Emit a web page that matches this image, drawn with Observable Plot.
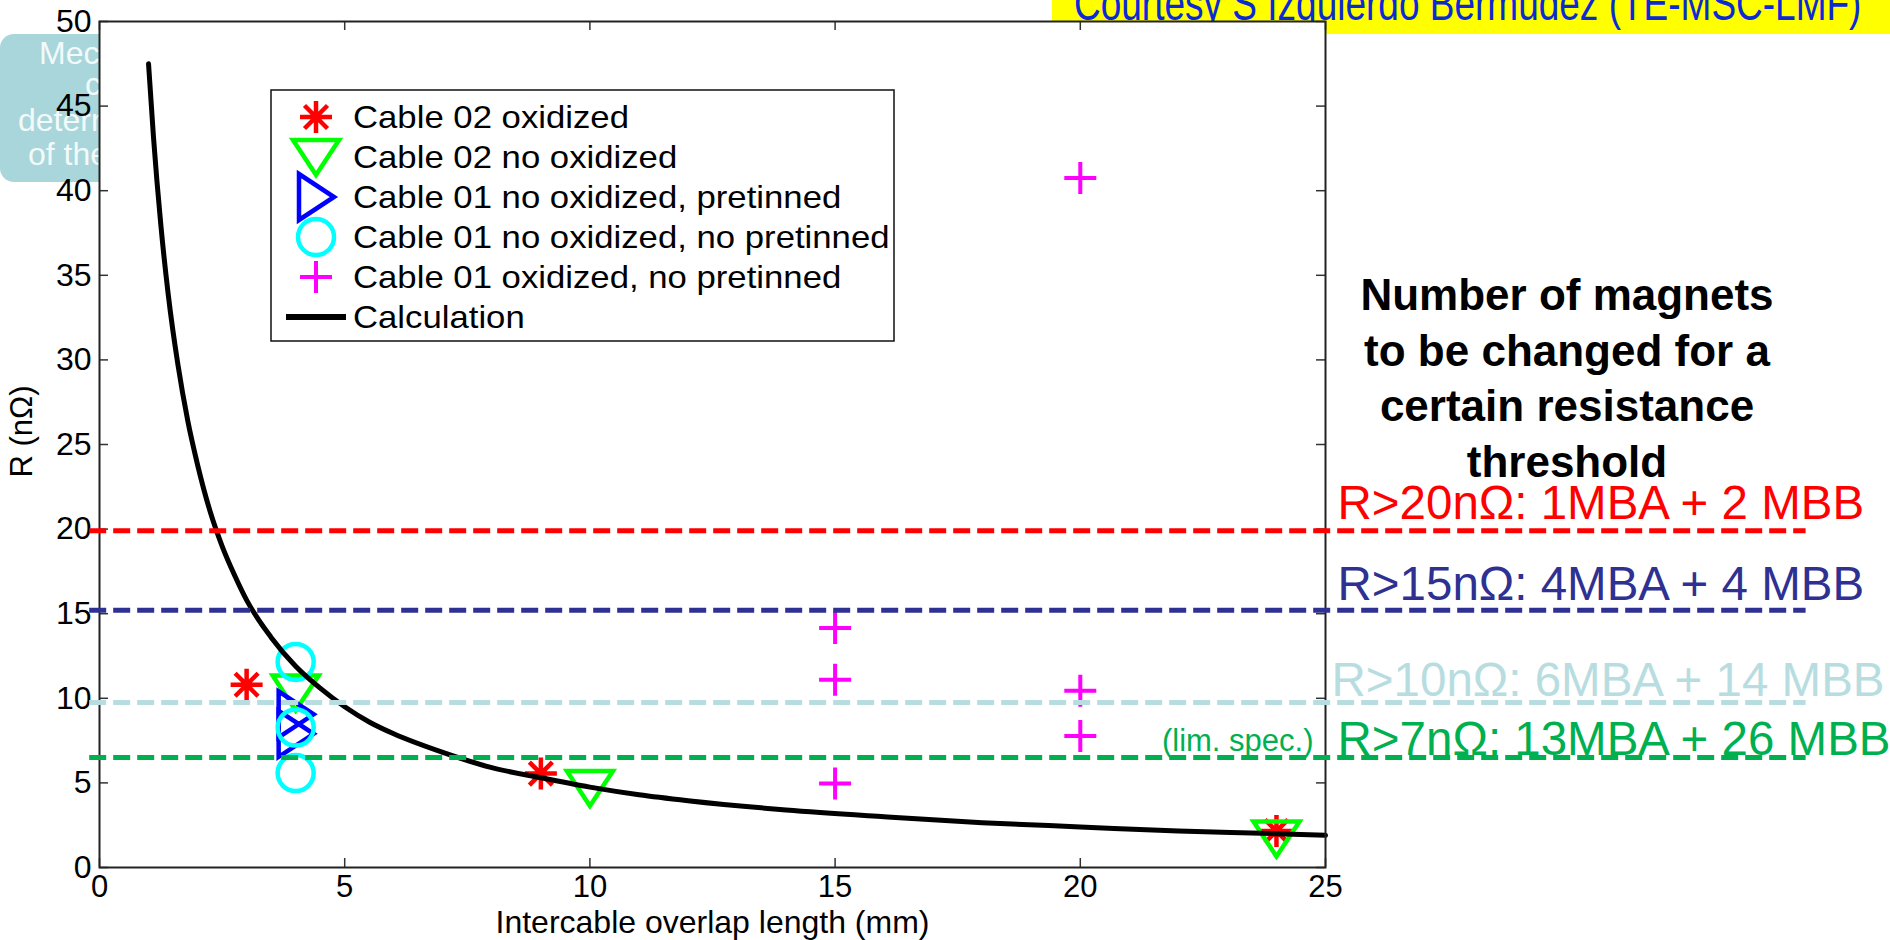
<!DOCTYPE html>
<html><head><meta charset="utf-8">
<script src="https://cdn.jsdelivr.net/npm/d3@7"></script>
<script src="https://cdn.jsdelivr.net/npm/@observablehq/plot@0.6"></script>
<style>
html,body{margin:0;padding:0;background:#fff;overflow:hidden;}
#wrap{position:relative;width:1890px;height:940px;font-family:"Liberation Sans",Arial,Helvetica,sans-serif;}
#wrap svg{position:absolute;left:0;top:0;}
</style></head><body><div id="wrap"></div>
<script>
// ---------------- data ----------------
const seriesNames = ["Cable 02 oxidized", "Cable 02 no oxidized", "Cable 01 no oxidized, pretinned",
  "Cable 01 no oxidized, no pretinned", "Cable 01 oxidized, no pretinned", "Calculation"];
const cable02OxX = [3, 9, 24];
const cable02OxR = [10.8, 5.55, 2.15];
const cable02NoOxX = [4, 10, 24];
const cable02NoOxR = [10.35, 4.7, 1.72];
const cable01PreX = [4, 4];
const cable01PreR = [9.05, 7.9];
const cable01NoPreX = [4, 4, 4];
const cable01NoPreR = [12.15, 8.27, 5.58];
const cable01OxX = [20, 15, 15, 20, 20, 15];
const cable01OxR = [40.75, 14.15, 11.1, 10.45, 7.77, 4.97];
const calcX = [1, 1.1, 1.25, 1.4, 1.6, 1.8, 2, 2.25, 2.5, 2.75, 3, 3.5, 4, 4.5, 5, 5.5, 6, 7, 8, 9, 10, 11, 12, 14, 16, 18, 20, 22, 24, 25];
const calcR = [47.5, 43.2, 38, 33.9, 29.7, 26.4, 23.8, 21.1, 19, 17.3, 15.8, 13.6, 11.9, 10.6, 9.5, 8.6, 7.9, 6.8, 5.9, 5.3, 4.75, 4.3, 3.95, 3.4, 3.0, 2.65, 2.4, 2.15, 2.0, 1.9];
const thresholdR = [19.9, 15.2, 9.75, 6.5];
const thresholdStartX = -0.2;
const thresholdEndX = 34.8;
const thresholdLabels = ["R>20nΩ: 1MBA + 2 MBB", "R>15nΩ: 4MBA + 4 MBB", "R>10nΩ: 6MBA + 14 MBB", "R>7nΩ: 13MBA + 26 MBB"];
const thresholdColors = ["#ff0000", "#2e3192", "#b7dde0", "#00b050"];
const specNote = "(lim. spec.)";
const xTicks = [0, 5, 10, 15, 20, 25];
const yTicks = [0, 5, 10, 15, 20, 25, 30, 35, 40, 45, 50];
const xLabel = "Intercable overlap length (mm)";
const yLabel = "R (nΩ)";
const noteTitle = ["Number of magnets", "to be changed for a", "certain resistance", "threshold"];
const courtesy = "Courtesy S Izquierdo Bermudez (TE-MSC-LMF)";
const slideBoxLines = ["Mechanical", "contact", "determination", "of the"];

// ---------------- marker shapes ----------------
const symAsterisk = {draw(c){const a=16,b=11.5;c.moveTo(-a,0);c.lineTo(a,0);c.moveTo(0,-a);c.lineTo(0,a);c.moveTo(-b,-b);c.lineTo(b,b);c.moveTo(-b,b);c.lineTo(b,-b);}};
const symTriDown = {draw(c){c.moveTo(-23,-17);c.lineTo(23,-17);c.lineTo(0,18);c.closePath();}};
const symTriRight = {draw(c){c.moveTo(-17,-23);c.lineTo(18,0);c.lineTo(-17,23);c.closePath();}};
const symCircle = {draw(c){c.moveTo(18,0);c.arc(0,0,18,0,2*Math.PI);c.closePath();}};
const symPlus = {draw(c){c.moveTo(-16,0);c.lineTo(16,0);c.moveTo(0,-16);c.lineTo(0,16);}};
const markerStyles = [
  {sym: symAsterisk, color: "#ff0000", sw: 4.5},
  {sym: symTriDown, color: "#00ff00", sw: 4.5},
  {sym: symTriRight, color: "#0000ff", sw: 4.5},
  {sym: symCircle, color: "#00ffff", sw: 4.5},
  {sym: symPlus, color: "#ff00ff", sw: 4}
];

const W = 1890, H = 940;
const mL = 99, mR = 565, mT = 21, mB = 73;
const fW = W - mL - mR, fH = H - mT - mB;
const font = '"Liberation Sans", Arial, Helvetica, sans-serif';
const wrap = d3.select("#wrap");

// ---------------- background slide elements ----------------
const bg = wrap.append("svg").attr("width", W).attr("height", H).style("z-index", 0);
bg.append("rect").attr("x", 0).attr("y", 34).attr("width", 240).attr("height", 148).attr("rx", 14).attr("fill", "#a9d6da");
const boxPos = [[39, 64], [85, 95], [18, 131], [28, 165]];
slideBoxLines.forEach((t, i) => bg.append("text").attr("x", boxPos[i][0]).attr("y", boxPos[i][1])
  .attr("fill", "#f2fafa").attr("font-family", font).attr("font-size", 32).text(t));
bg.append("rect").attr("x", 1052).attr("y", 0).attr("width", W - 1052).attr("height", 34).attr("fill", "#ffff00");
bg.append("text").attr("transform", "translate(1074,20) scale(1,1.3)").attr("fill", "#0a2ad6").attr("font-family", font)
  .attr("font-size", 37).text(courtesy);
noteTitle.forEach((t, i) => bg.append("text").attr("x", 1567).attr("y", 310 + i * 55.5)
  .attr("text-anchor", "middle").attr("font-weight", "bold").attr("font-family", font)
  .attr("font-size", 44).attr("fill", "#000").text(t));

// ---------------- plot ----------------
const dotMark = (xs, ys, k) => Plot.dot(xs, {x: xs, y: ys, symbol: markerStyles[k].sym, r: 10,
  stroke: markerStyles[k].color, strokeWidth: markerStyles[k].sw, fill: "none"});
const labelDx = [12, 12, 6, 12];
const labelDy = [-12, -10, -7, -3];

const chart = Plot.plot({
  width: W, height: H,
  marginLeft: mL, marginRight: mR, marginTop: mT, marginBottom: mB,
  x: {domain: [0, 25]},
  y: {domain: [0, 50]},
  color: {type: "identity"},
  style: {background: "transparent", overflow: "visible", fontFamily: font, color: "black"},
  marks: [
    Plot.frame({fill: "white", stroke: "none"}),
    dotMark(cable02OxX, cable02OxR, 0),
    dotMark(cable02NoOxX, cable02NoOxR, 1),
    dotMark(cable01PreX, cable01PreR, 2),
    dotMark(cable01NoPreX, cable01NoPreR, 3),
    dotMark(cable01OxX, cable01OxR, 4),
    Plot.line(calcX, {x: calcX, y: calcR, stroke: "black", strokeWidth: 5, curve: "monotone-x"}),
    Plot.ruleX(xTicks, {x: d => d, insetTop: fH - 9, stroke: "#333", strokeWidth: 1.5}),
    Plot.ruleX(xTicks, {x: d => d, insetBottom: fH - 9, stroke: "#333", strokeWidth: 1.5}),
    Plot.ruleY(yTicks, {y: d => d, insetRight: fW - 9, stroke: "#333", strokeWidth: 1.5}),
    Plot.ruleY(yTicks, {y: d => d, insetLeft: fW - 9, stroke: "#333", strokeWidth: 1.5}),
    Plot.frame({stroke: "#222", strokeWidth: 2}),
    Plot.axisX(xTicks, {tickSize: 0, tickPadding: 7, fontSize: 31, label: null}),
    Plot.axisY(yTicks, {tickSize: 0, tickPadding: 8, fontSize: 32, label: null}),
    Plot.text([xLabel], {frameAnchor: "bottom", dy: 65, lineAnchor: "bottom", textAnchor: "middle", fontSize: 32}),
    Plot.text([yLabel], {frameAnchor: "left", dx: -77, dy: -13, rotate: -90, textAnchor: "middle", fontSize: 31}),
    Plot.ruleY(thresholdR, {y: thresholdR, x1: thresholdStartX, x2: thresholdEndX,
      stroke: thresholdColors, strokeWidth: 5, strokeDasharray: "17,7"}),
    ...thresholdLabels.map((t, i) => Plot.text([t], {x: 25, y: thresholdR[i], dx: labelDx[i], dy: labelDy[i],
      text: d => d, textAnchor: "start", lineAnchor: "bottom", fill: thresholdColors[i], fontSize: 47.5})),
    Plot.text([specNote], {x: 25, y: thresholdR[3], dx: -12, dy: -7, text: d => d, textAnchor: "end",
      lineAnchor: "bottom", fill: thresholdColors[3], fontSize: 31})
  ]
});
chart.style.zIndex = 1;
wrap.node().appendChild(chart);

// ---------------- legend ----------------
const lg = wrap.append("svg").attr("width", W).attr("height", H).style("z-index", 2).style("pointer-events", "none");
lg.append("rect").attr("x", 271).attr("y", 90).attr("width", 623).attr("height", 251)
  .attr("fill", "white").attr("stroke", "#111").attr("stroke-width", 1.5);
seriesNames.forEach((name, i) => {
  const cy = 117 + i * 40;
  if (i < 5) {
    const p = d3.path(); markerStyles[i].sym.draw(p);
    lg.append("path").attr("transform", `translate(316,${cy})`).attr("d", p.toString())
      .attr("fill", "none").attr("stroke", markerStyles[i].color).attr("stroke-width", markerStyles[i].sw);
  } else {
    lg.append("line").attr("x1", 286).attr("x2", 346).attr("y1", cy).attr("y2", cy)
      .attr("stroke", "black").attr("stroke-width", 6);
  }
  lg.append("text").attr("transform", `translate(353,${cy}) scale(1.12,1)`).attr("dy", "0.36em")
    .attr("font-family", font).attr("font-size", 31).attr("fill", "#000").text(name);
});
</script></body></html>
